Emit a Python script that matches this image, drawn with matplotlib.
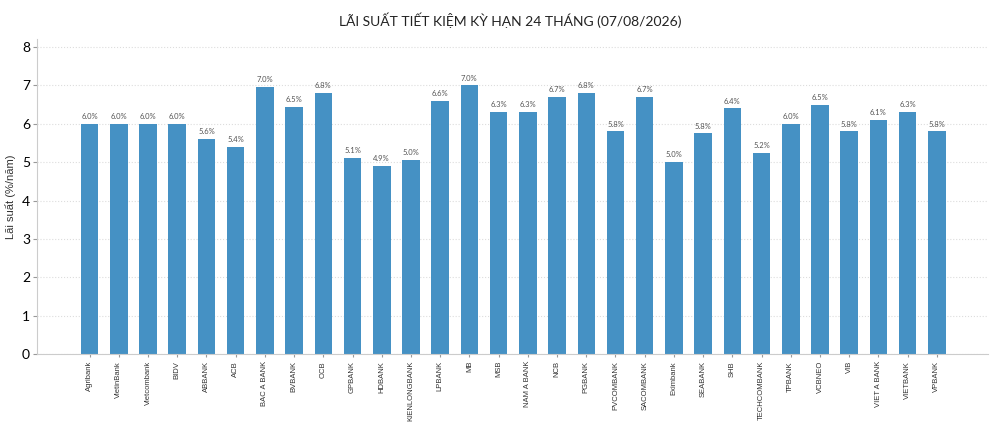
import numpy as np
from matplotlib import pyplot as plt

plt.rcParams['font.family'] = ['Lato', 'DejaVu Sans']

banks = ["Agribank", "VietinBank", "Vietcombank", "BIDV", "ABBANK", "ACB",
         "BAC A BANK", "BVBANK", "OCB", "GPBANK", "HDBANK", "KIENLONGBANK",
         "LPBANK", "MB", "MSB", "NAM A BANK", "NCB", "PGBANK", "PVCOMBANK",
         "SACOMBANK", "Eximbank", "SEABANK", "SHB", "TECHCOMBANK", "TPBANK",
         "VCBNEO", "VIB", "VIET A BANK", "VIETBANK", "VPBANK"]
rates = [6.0, 6.0, 6.0, 6.0, 5.6, 5.4,
         6.95, 6.45, 6.8, 5.1, 4.9, 5.05,
         6.6, 7.0, 6.3, 6.3, 6.7, 6.8, 5.8,
         6.7, 5.0, 5.75, 6.4, 5.25, 6.0,
         6.5, 5.8, 6.1, 6.3, 5.8]

fig = plt.figure(figsize=(10, 4.28), dpi=100)
ax = fig.add_axes([0.037, 0.173, 0.951, 0.735])

x = np.arange(len(banks))
ax.bar(x, rates, width=0.6, color="#4591c4", zorder=2)
for xi, r in zip(x, rates):
    ax.text(xi, r + 0.1, f"{r:.1f}%", ha="center", va="bottom",
            fontsize=5.5, color="#555555")

ax.set_xlim(-1.8, len(banks) + 0.75)
ax.set_ylim(0, 8.2)
ax.set_yticks(range(0, 9))
ax.set_xticks(x)
ax.set_xticklabels(banks, rotation=90, fontsize=5.5, color="#333333",
                   family=["Liberation Sans", "DejaVu Sans"])
ax.tick_params(axis="y", labelsize=10, length=3, color="#999999", pad=2)
ax.tick_params(axis="x", length=2, color="#999999", pad=3)
ax.grid(axis="y", color="#dddddd", linestyle=":", linewidth=0.8, zorder=0)
for s in ["top", "right"]:
    ax.spines[s].set_visible(False)
for s in ["left", "bottom"]:
    ax.spines[s].set_color("#cccccc")
ax.set_ylabel("Lãi suất (%/năm)", fontsize=8, color="#333333",
              family=["Liberation Sans", "DejaVu Sans"])

fig.suptitle("LÃI SUẤT TIẾT KIỆM KỲ HẠN 24 THÁNG (07/08/2026)",
             x=0.51, y=0.97, fontsize=10, color="#222222")

plt.savefig("out.png", dpi=100)
